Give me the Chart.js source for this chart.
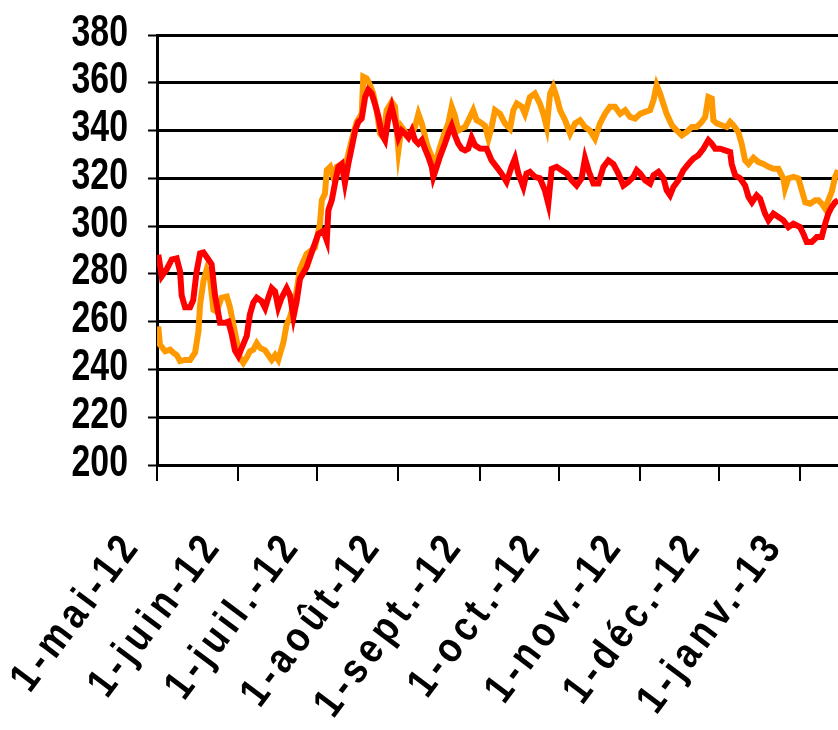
<!DOCTYPE html>
<html>
<head>
<meta charset="utf-8">
<script src="https://cdn.jsdelivr.net/npm/chart.js@4"></script>
<style>
  html, body { margin: 0; padding: 0; background: #fff; }
  #wrap { width: 838px; height: 730px; }
</style>
</head>
<body>
<div id="wrap"><canvas id="c" width="838" height="730"></canvas></div>
<script>
// Days counted from 1 May 2012
const monthTickDays = [0, 31, 61, 92, 123, 153, 184, 214, 245];
const monthTickLabels = ['1-mai-12', '1-juin-12', '1-juil.-12', '1-août-12', '1-sept.-12', '1-oct.-12', '1-nov.-12', '1-déc.-12', '1-janv.-13'];
const yTicks = [200, 220, 240, 260, 280, 300, 320, 340, 360, 380];

const redDays = [0.5,1.8,3.7,5.6,7.5,8.8,9.4,10.7,12.6,13.8,15.1,16.4,17.7,19.6,20.8,22.1,24,25.9,27.2,28.5,29.7,31,32.3,34.2,35.4,36.7,38,39.9,41.2,42.4,43.7,45,46.2,47.5,49.4,50.7,52,53.2,
  54.5,57,59.6,61.5,63.4,64.7,65.3,66.6,67.8,69.1,70.4,71.6,72.9,74.2,75.5,76.7,78,79.3,80.5,81.8,83.1,84.4,85.6,86.9,88.2,89.4,90.7,92,93.2,94.5,95.8,97.1,98.3,99.6,100.9,102.1,103.4,104.7,105.3,106.6,107.8,109.7,111,112.3,113.5,114.8,116.1,117.4,118.6,119.9,121.2,
  123.1,125.6,127.5,129.4,131.3,133.2,135.1,136.4,137.7,139.6,140.8,142.1,144,145.9,147.8,149.1,150.4,152.3,154.2,156.1,158,159.9,161.8,163.1,164.4,166.3,168.2,170.1,172,173.9,175.8,177.7,179.6,181.5,182.8,184.1,186,187.9,189.2,191.1,
  193,194.2,195.5,196.8,198.7,200.6,202.5,204.4,206.3,208.2,210.1,211.4,212.7,214.6,216.5,218.4,219,220.3,222.2,224.1,225.4,226.7,228.5,229.8,231.7,233,234.9,236.8,238.7,240.6,242.5,245,246.3,247.6,249.5,251.4,253.3,254.6,255.8,257.1,258.4,259.5];
const redValues = [288,279,282,286,286.5,281,271,266,266,269,281,288.6,289,286,284,271,259.5,259.5,260,254.6,248,245.6,249,254,263,268,270,268.5,265.7,270,274,272.6,266,270,274,271,262,268.5,
  278,282.8,291,296.8,298,294,306.6,310.8,317.8,324.8,326,318,326,333,340,343.6,345,354,357,355.5,351,345.7,338.7,336,345.7,350,344,337,340,338.7,337,340,336,334.5,336,332.4,329,324.8,320.6,324.8,329,334.5,338.7,342,338,334.5,332.4,331.7,332.4,337,333.8,
  332.5,332.4,327.5,324.8,322,318.5,324.8,328.3,322,316.4,322,322.7,320.6,320,315,309.4,324,324.8,323.4,322,319.2,317,320,328.3,323.4,317.8,317.8,324.8,327.5,326,322,317,318.5,320.6,323.4,322,319.2,317.8,321.3,322.7,
  320,315,312.9,316.4,319.2,323.4,326,328.3,329.7,332.4,336,334.5,332.4,332.4,331.7,331,326,321.3,320,317,312.2,310,312.9,311.5,305.2,302.4,305.2,303.8,302.4,299.6,301,299.6,296.8,293.3,293.3,295.4,295.4,301,305.2,308,310,310.8];

const orangeDays = [0.5,1.1,3.1,5.0,6.2,7.5,8.8,10.7,12.6,14.5,15.8,16.4,17.7,18.9,20.2,21.5,22.7,24.6,26.6,27.8,29.1,30.4,31.6,32.9,34.2,35.4,36.7,38,39.3,41.2,42.4,43.7,45,46.2,48.1,49.4,50.7,52.6,54.5,
  57,60.2,62.1,62.8,64,64.7,66,67.2,68.5,70.4,72.3,74.2,76.1,78,78.6,79.9,81.2,82.4,83.7,85,86.3,87.5,89.4,90.7,92,93.2,95.1,97.1,98.3,99.6,100.9,102.8,104.7,106,107.8,109.7,111,112.3,113.5,114.8,116.1,117.4,119.3,120.5,121.8,
  123.1,125,126.3,127.5,128.8,130.7,132.6,134.5,135.8,137.1,139,140.2,142.1,144,145.9,147.2,148.5,149.8,151,152.3,153.6,155.5,157.4,159.3,161.2,163.1,165,166.9,168.8,170.7,172.6,174.5,176.5,178.4,180.3,182.2,184.1,186,187.9,189.2,190.4,
  191.7,193,194.2,196.2,198.1,200,201.9,203.8,205.7,207.6,208.9,210.1,211.4,212,213.3,215.2,217.1,218.4,219.6,221.5,222.8,224.1,225.4,227.3,229.2,231.1,233,234.9,236.8,238.7,239.3,240.6,242.5,244.4,245.7,247,248.9,250.8,252,253.3,254.6,255.8,257.1,258.4,259.5];
const orangeValues = [258,250.4,247.6,248.3,247,246,243.5,244,244,247,256,267,277,281.7,278,265,264.3,270,270.5,266,258.8,251.8,244.9,242.8,245,247.6,248.3,251,249,248,246,244,246,244,251,258.8,262,269,282,
  288.4,291,301,310.8,313.6,323.4,324.8,320.6,324.8,326,327.5,336,343.6,347,362.5,361.8,359,355.5,348.5,338.7,337,348.5,352,350,331.7,341.5,338.7,338.7,341.5,347,343,334.5,329,326,333,339.4,343,350,346.4,340,340.8,341.5,345.7,348.5,344.3,
  343.6,342,336.6,341.5,348.5,347,343,340.8,348.5,351.3,350,347,354,355.5,351.3,347,341.5,355.5,358.3,354,348.5,344.3,338.7,343,344.3,341.5,340,336.6,343,347,350,350,347,348.5,345.7,345,347,347.8,348.5,352.7,359,
  355.5,351,347,342.2,340,338,339.4,341.5,341.5,343.6,345.7,354,353.4,344.3,343,342.2,341.5,343.6,342.2,339.4,334.5,327.5,326,328.6,326.8,326,324.8,324,324,319.9,315.7,320,320.6,320,315,310,309.4,310.8,310.8,309.4,307.3,310.8,314.3,320.6,323.4];

const toPoints = (xs, ys) => xs.map((x, i) => ({ x: x, y: ys[i] }));

// Tick labels in the style of the original (positions taken from the Chart.js scales)
const axisLabels = {
  id: 'axisLabels',
  afterDraw(chart) {
    const ctx = chart.ctx;
    const xs = chart.scales.x, ys = chart.scales.y;
    ctx.save();
    ctx.fillStyle = '#000';
    ctx.textBaseline = 'alphabetic';
    // y-axis labels: condensed bold digits
    ctx.font = 'bold 44px "Liberation Sans", Arial, sans-serif';
    ctx.textAlign = 'right';
    yTicks.forEach(v => {
      const py = ys.getPixelForValue(v);
      ctx.save();
      ctx.translate(ys.right - 29, py + 10.5);
      ctx.scale(0.77, 1);
      ctx.fillText(String(v), 0, 0);
      ctx.restore();
    });
    // x-axis labels: rotated ~53 degrees, slightly condensed and spaced
    ctx.font = 'bold 42px "Liberation Sans", Arial, sans-serif';
    const sx = 0.86;
    const sp = 5.8;
    const hasLS = ('letterSpacing' in ctx);
    monthTickDays.forEach((d, i) => {
      const label = monthTickLabels[i];
      const px = xs.getPixelForValue(d);
      ctx.save();
      ctx.translate(px - 18, xs.top + 84);
      ctx.rotate(-53 * Math.PI / 180);
      ctx.scale(sx, 1);
      ctx.textAlign = 'left';
      if (hasLS) ctx.letterSpacing = sp + 'px';
      const w = ctx.measureText(label).width;
      ctx.fillText(label, -(w - (hasLS ? sp : 0)), 0);
      ctx.restore();
    });
    ctx.restore();
  }
};

new Chart(document.getElementById('c'), {
  type: 'line',
  data: {
    datasets: [
      { label: 'A', data: toPoints(redDays, redValues), borderColor: '#FF0000', borderWidth: 6, pointRadius: 0, tension: 0, fill: false },
      { label: 'B', data: toPoints(orangeDays, orangeValues), borderColor: '#FF9900', borderWidth: 6, pointRadius: 0, tension: 0, fill: false }
    ]
  },
  plugins: [axisLabels],
  options: {
    responsive: false,
    animation: false,
    devicePixelRatio: 1,
    layout: { padding: { top: 35, right: 0, left: 0, bottom: 0 } },
    plugins: { legend: { display: false }, tooltip: { enabled: false } },
    scales: {
      x: {
        type: 'linear',
        min: 0,
        max: 259.5,
        afterBuildTicks: (s) => { s.ticks = monthTickDays.map(v => ({ value: v })); },
        afterFit: (s) => { s.height = 265; s.paddingLeft = 0; s.paddingRight = 0; },
        ticks: {
          display: false,
          autoSkip: false,
          callback: (v) => { const i = monthTickDays.indexOf(v); return i >= 0 ? monthTickLabels[i] : ''; }
        },
        grid: { drawOnChartArea: false, drawTicks: true, tickLength: 16, color: '#000', lineWidth: 2 },
        border: { display: true, color: '#000', width: 3 }
      },
      y: {
        min: 200,
        max: 380,
        afterBuildTicks: (s) => { s.ticks = yTicks.map(v => ({ value: v })); },
        afterFit: (s) => { s.width = 157; s.paddingTop = 0; s.paddingBottom = 0; },
        ticks: { display: false, autoSkip: false },
        grid: { color: '#000', lineWidth: 3, tickLength: 9, tickWidth: 2 },
        border: { display: true, color: '#000', width: 3 }
      }
    }
  }
});
</script>
</body>
</html>
